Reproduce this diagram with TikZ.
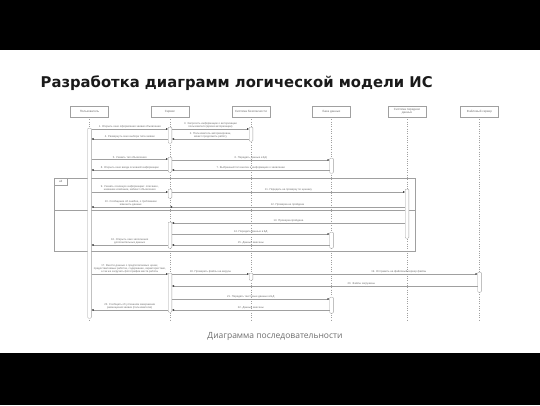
\documentclass[tikz,border=0pt]{standalone}
\usepackage{fontspec}
\setmainfont{Liberation Sans}
\newfontfamily\titlefont{DejaVu Sans}
\newfontfamily\capfont{Open Sans}
\usetikzlibrary{arrows.meta,calc}
\definecolor{linec}{HTML}{A0A0A0}
\definecolor{headc}{HTML}{404040}
\definecolor{txt}{HTML}{707070}
\definecolor{titlec}{HTML}{1A1A1A}
\definecolor{capc}{HTML}{6E6E6E}
\begin{document}
\begin{tikzpicture}[x=1pt,y=-1pt,
  part/.style={draw=linec, fill=white, line width=0.35pt, minimum width=38pt, minimum height=11pt, inner sep=0pt, font=\fontsize{3}{3.4}\selectfont, text=txt, align=center},
  actbar/.style={draw=linec, fill=white, line width=0.4pt, minimum width=3.6pt, inner sep=0pt, rounded corners=0.8pt, anchor=north},
  life/.style={draw=linec, dotted, line width=0.3pt},
  msg/.style={draw=linec, line width=0.35pt, -{Triangle[length=2pt,width=1.8pt,color=headc]}},
  lab/.style={font=\fontsize{2.7}{3.3}\selectfont, text=txt, align=center, inner sep=0.6pt, above},
  frame/.style={draw=linec, line width=0.35pt}
]
\useasboundingbox (0,0) rectangle (540,405);
\fill[white] (0,0) rectangle (540,405);
\fill[black] (0,0) rectangle (540,50);
\fill[black] (0,353) rectangle (540,405);

\node[anchor=west, font=\titlefont\bfseries\fontsize{14.8}{16}\selectfont, text=titlec, inner sep=0pt] (title) at (40.5,83) {Разработка диаграмм логической модели ИС};

% participants
\node[part] (pU) at (89.5,111.5) {Пользователь};
\node[part] (pS) at (170,111.5) {Сервис};
\node[part] (pSec) at (251,111.5) {Система безопасности};
\node[part] (pDB) at (331.5,111.5) {База данных};
\node[part] (pT) at (407,111.5) {Система передачи\\данных};
\node[part] (pF) at (479.5,111.5) {Файловый сервер};

% lifelines
\foreach \p in {pU,pS,pSec,pDB,pT,pF}
  \draw[life] (\p.south) -- (\p.south |- 0,321);

% alt frame
\draw[frame] (54,178) rectangle (415,251);
\draw[frame] (54,210) -- (415,210);
\node[draw=linec, line width=0.35pt, fill=white, anchor=north west, minimum width=13pt, minimum height=7pt, inner sep=0pt, font=\fontsize{3}{3.4}\selectfont, text=txt] (altl) at (54,178) {alt};

% activation bars
\node[actbar, minimum height=190pt] (uA) at (89.5,128) {};
\node[actbar, minimum height=16pt] (sA) at (170,127) {};
\node[actbar, minimum height=15pt] (sB) at (170,157) {};
\node[actbar, minimum height=9pt] (sC) at (170,189) {};
\node[actbar, minimum height=26pt] (sD) at (170,222) {};
\node[actbar, minimum height=39pt] (sE) at (170,273) {};
\node[actbar, minimum height=14pt] (secA) at (251,127) {};
\node[actbar, minimum height=7pt] (secB) at (251,273) {};
\node[actbar, minimum height=15pt] (dbA) at (331.5,158) {};
\node[actbar, minimum height=16pt] (dbB) at (331.5,232) {};
\node[actbar, minimum height=16pt] (dbC) at (331.5,297) {};
\node[actbar, minimum height=49pt] (tA) at (407,189) {};
\node[actbar, minimum height=20pt] (fA) at (479.5,272) {};

% messages
\draw[msg] (uA.east|-0,129) -- (sA.west|-0,129) node[lab,midway] {1. Открыть окно оформления заявки объявления};
\draw[msg] (sA.east|-0,129) -- (secA.west|-0,129) node[lab,midway] {3. Запросить информацию о авторизации\\пользователя (время авторизации)};
\draw[msg] (secA.west|-0,139) -- (sA.east|-0,139) node[lab,midway] {2. Пользователь авторизирован,\\может продолжить работу};
\draw[msg] (sA.west|-0,139) -- (uA.east|-0,139) node[lab,midway] {4. Развернуть окно выбора типа заявки};
\draw[msg] (uA.east|-0,159) -- (sB.west|-0,159) node[lab,midway] {5. Указать тип объявления};
\draw[msg] (sB.east|-0,160) -- (dbA.west|-0,160) node[lab,midway] {6. Передать данные в БД};
\draw[msg] (dbA.west|-0,170) -- (sB.east|-0,170) node[lab,midway] {7. Выбранный тип внесен в информацию о заявлении};
\draw[msg] (sB.west|-0,170) -- (uA.east|-0,170) node[lab,midway] {8. Открыть окно ввода основной информации};
\draw[msg] (uA.east|-0,192) -- (sC.west|-0,192) node[lab,midway] {9. Указать основную информацию: описание,\\название компании, кабинет объявления};
\draw[msg] (sC.east|-0,192) -- (tA.west|-0,192) node[lab,midway] {11. Передать на проверку по ценнику};
\draw[msg] (tA.west|-0,207) -- (pS.south|-0,207) node[lab,midway] {12. Проверка не пройдена};
\draw[msg] (pS.south|-0,207) -- (uA.east|-0,207) node[lab,midway] {10. Сообщение об ошибке, о требовании\\изменить данные};
\draw[msg] (tA.west|-0,223) -- (sD.east|-0,223) node[lab,midway] {13. Проверка пройдена};
\draw[msg] (sD.east|-0,234) -- (dbB.west|-0,234) node[lab,midway] {14. Передать данные в БД};
\draw[msg] (dbB.west|-0,245) -- (sD.east|-0,245) node[lab,midway] {15. Данные внесены};
\draw[msg] (sD.west|-0,245) -- (uA.east|-0,245) node[lab,midway] {16. Открыть окно заполнения\\дополнительных данных};
\draw[msg] (uA.east|-0,274) -- (sE.west|-0,274) node[lab,midway] {17. Внести данные о предполагаемых ценах,\\предоставляемых работах, содержание, характеристики,\\а так же загрузить фотографии места работы};
\draw[msg] (sE.east|-0,274) -- (secB.west|-0,274) node[lab,midway] {18. Проверить файлы на вирусы};
\draw[msg] (secB.east|-0,274) -- (fA.west|-0,274) node[lab,pos=0.65] {19. Отправить на файловый сервер файлы};
\draw[msg] (fA.west|-0,286) -- (sE.east|-0,286) node[lab,pos=0.38] {20. Файлы загружены};
\draw[msg] (sE.east|-0,299) -- (dbC.west|-0,299) node[lab,midway] {21. Передать текстовые данные в БД};
\draw[msg] (dbC.west|-0,310) -- (sE.east|-0,310) node[lab,midway] {22. Данные внесены};
\draw[msg] (sE.west|-0,310) -- (uA.east|-0,310) node[lab,midway] {23. Сообщить об успешном завершении\\размещения заявки (пользователю)};

\node[font=\capfont\fontsize{8.5}{10}\selectfont, text=capc, inner sep=0pt] (cap) at (275,336.5) {Диаграмма последовательности};
\end{tikzpicture}
\end{document}
